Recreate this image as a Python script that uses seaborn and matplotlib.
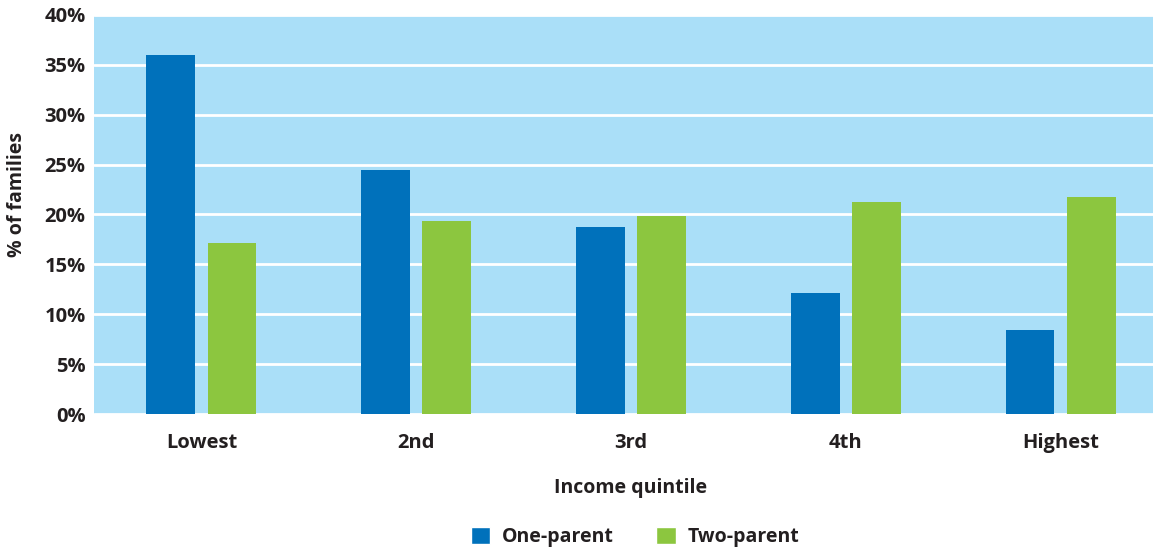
import matplotlib
matplotlib.use("Agg")
import matplotlib.pyplot as plt
import seaborn as sns
import pandas as pd
from matplotlib.patches import Patch

quintiles = ["Lowest", "2nd", "3rd", "4th", "Highest"]
one_parent = [36.0, 24.5, 18.7, 12.1, 8.4]
two_parent = [17.1, 19.3, 19.8, 21.3, 21.8]
series_names = ["One-parent", "Two-parent"]
y_ticks = [0, 5, 10, 15, 20, 25, 30, 35, 40]

df = pd.DataFrame({
    "quintile": quintiles * 2,
    "share": one_parent + two_parent,
    "family": [series_names[0]] * len(quintiles) + [series_names[1]] * len(quintiles),
})

sns.set_theme(style="white")
plt.rcParams["font.family"] = ["Open Sans", "DejaVu Sans"]

BLUE = "#0071bb"
GREEN = "#8cc63f"
BG = "#aadff8"
TEXT = "#231f20"

W, H = 1153, 550
fig = plt.figure(figsize=(W / 100, H / 100), dpi=100)
ax = fig.add_axes([94 / W, (H - 414) / H, (1168 - 94) / W, 399 / H])
ax.set_facecolor(BG)

sns.barplot(data=df, x="quintile", y="share", hue="family",
            palette=[BLUE, GREEN], width=0.568, gap=0.2,
            saturation=1, linewidth=0, ax=ax, legend=False, zorder=3)

ax.set_xlim(-0.5, 4.5)
ax.set_ylim(0, 40)
ax.set_yticks(y_ticks)
ax.set_yticklabels([f"{t}%" for t in y_ticks])
ax.yaxis.grid(True, color="white", linewidth=2, zorder=1)
ax.set_axisbelow(True)
for s in ax.spines.values():
    s.set_visible(False)
ax.tick_params(axis="both", length=0, colors=TEXT, labelsize=14.5)
ax.tick_params(axis="x", pad=14)
ax.tick_params(axis="y", pad=6)
for lab in ax.get_xticklabels() + ax.get_yticklabels():
    lab.set_fontweight("bold")

ax.set_xlabel("Income quintile", fontsize=14, fontweight="bold", color=TEXT, labelpad=18)
ax.set_ylabel("% of families", fontsize=14, fontweight="bold", color=TEXT)
ax.yaxis.set_label_coords(-0.062, 0.55)

handles = [Patch(facecolor=BLUE), Patch(facecolor=GREEN)]
leg = fig.legend(handles, series_names, loc="center", bbox_to_anchor=(635 / W, (H - 537) / H),
                 ncol=2, frameon=False, handlelength=1.0, handleheight=1.0,
                 columnspacing=2.2, handletextpad=0.6,
                 prop={"weight": "bold", "size": 14})
for t in leg.get_texts():
    t.set_color(TEXT)

fig.savefig("out.png", dpi=100)
